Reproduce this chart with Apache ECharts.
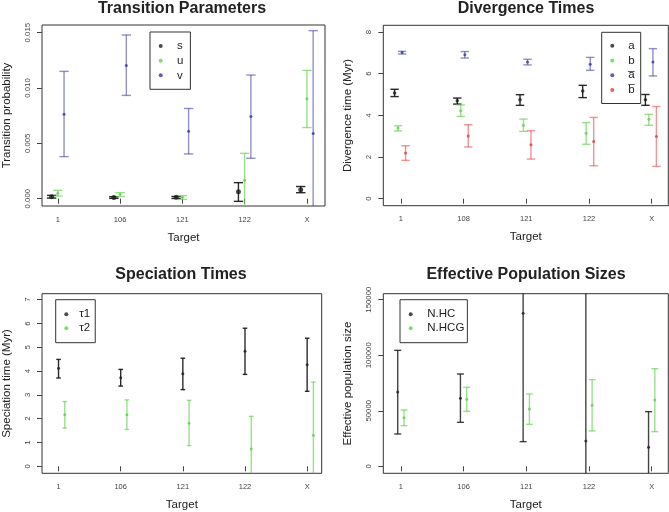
<!DOCTYPE html>
<html><head><meta charset="utf-8">
<script src="https://cdn.jsdelivr.net/npm/echarts@6/dist/echarts.min.js"></script>
<style>html,body{margin:0;padding:0;background:#fff}#c{width:669px;height:512px}</style>
</head><body><div id="c"></div><script>
// ---------- data ----------
const targetsA = ['1', '106', '121', '122', 'X'];
const targetsB = ['1', '108', '121', '122', 'X'];

// Transition Parameters
const sMean = [0.00018, 0.0001, 0.00012, 0.00063, 0.0008];
const sLow  = [0.00006, 0.00003, 0.00002, -0.00024, 0.00054];
const sHigh = [0.0003, 0.00018, 0.0002, 0.00145, 0.0011];
const uMean = [0.0005, 0.0004, 0.00012, 0.00166, 0.00902];
const uLow  = [0.00024, 0.0002, -0.00006, -0.003, 0.00643];
const uHigh = [0.00075, 0.00054, 0.00027, 0.0041, 0.01159];
const vMean = [0.00763, 0.01204, 0.0061, 0.00742, 0.00588];
const vLow  = [0.0038, 0.00933, 0.00404, 0.00365, -0.004];
const vHigh = [0.0115, 0.01479, 0.00815, 0.01117, 0.01518];

// Divergence Times
const aMean = [5.07, 4.70, 4.75, 5.17, 4.75];
const aLow  = [4.90, 4.54, 4.48, 4.85, 4.48];
const aHigh = [5.25, 4.83, 4.99, 5.44, 5.00];
const bMean = [3.39, 4.22, 3.52, 3.14, 3.81];
const bLow  = [3.25, 3.95, 3.23, 2.61, 3.52];
const bHigh = [3.50, 4.50, 3.82, 3.65, 4.05];
const abMean = [7.01, 6.91, 6.56, 6.45, 6.56];
const abLow  = [6.94, 6.75, 6.42, 6.16, 5.89];
const abHigh = [7.07, 7.06, 6.69, 6.78, 7.20];
const bbMean = [2.19, 3.01, 2.59, 2.74, 2.98];
const bbLow  = [1.84, 2.48, 1.90, 1.58, 1.55];
const bbHigh = [2.54, 3.55, 3.26, 3.90, 4.42];

// Speciation Times
const t1Mean = [4.12, 3.72, 3.89, 4.83, 4.27];
const t1Low  = [3.71, 3.37, 3.22, 3.86, 3.15];
const t1High = [4.49, 4.07, 4.54, 5.80, 5.38];
const t2Mean = [2.17, 2.17, 1.81, 0.73, 1.30];
const t2Low  = [1.61, 1.55, 0.87, -0.70, -1.00];
const t2High = [2.72, 2.79, 2.77, 2.10, 3.54];

// Effective Population Sizes
const hcMean = [66900, 61200, 137700, 22800, 17100];
const hcLow  = [29100, 39600, 22200, -100000, -20000];
const hcHigh = [104400, 83100, 200000, 250000, 49200];
const hcgMean = [43800, 60300, 51600, 54900, 59700];
const hcgLow  = [36600, 49500, 37800, 31800, 31200];
const hcgHigh = [50700, 71100, 65100, 78000, 87900];

// tick labels
const ticksP1 = [0, 0.005, 0.010, 0.015];
const ticksP2 = [0, 2, 4, 6, 8];
const ticksP3 = [0, 1, 2, 3, 4, 5, 6, 7];
const ticksP4 = [0, 50000, 100000, 150000];

// ---------- chart ----------
const FONT = 'Liberation Sans, Arial, Helvetica, sans-serif';
const BLACK = '#1e1e1e', GREEN = '#61D04F', BLUE = '#3434A2', RED = '#E03C3C';

function errSeries(name, g, off, lo, hi, color, cap, lw) {
  return {
    type: 'custom', name: name + ' err', xAxisIndex: g, yAxisIndex: g, silent: true, z: 2,
    data: lo.map((l, i) => [i + 1 + off, l, hi[i]]),
    encode: { x: 0, y: [1, 2] },
    renderItem: function (params, api) {
      const x = api.value(0), l = api.value(1), h = api.value(2);
      const pl = api.coord([x, l]), ph = api.coord([x, h]);
      const cs = params.coordSys;
      const top = cs.y, bot = cs.y + cs.height;
      const st = { stroke: color, lineWidth: lw };
      const ch = [];
      ch.push({ type: 'line', shape: { x1: pl[0], y1: Math.min(pl[1], bot), x2: pl[0], y2: Math.max(ph[1], top) }, style: st });
      if (pl[1] <= bot + 0.5) ch.push({ type: 'line', shape: { x1: pl[0] - cap, y1: pl[1], x2: pl[0] + cap, y2: pl[1] }, style: st });
      if (ph[1] >= top - 0.5) ch.push({ type: 'line', shape: { x1: ph[0] - cap, y1: ph[1], x2: ph[0] + cap, y2: ph[1] }, style: st });
      return { type: 'group', children: ch };
    }
  };
}
function ptSeries(name, g, off, mean, color, size) {
  return {
    type: 'scatter', name: name, xAxisIndex: g, yAxisIndex: g, z: 3, silent: true,
    symbol: 'circle', symbolSize: size, itemStyle: { color: color },
    data: mean.map((m, i) => [i + 1 + off, m])
  };
}
function xAx(g, min, max, labels) {
  return {
    type: 'value', gridIndex: g, min: min, max: max,
    name: 'Target', nameLocation: 'middle', nameGap: 25.5,
    nameTextStyle: { fontSize: 11.5, color: '#222', fontFamily: FONT },
    splitLine: { show: false }, axisLine: { show: false },
    axisTick: { show: true, length: 5, lineStyle: { color: '#444' }, customValues: [1, 2, 3, 4, 5] },
    axisLabel: { customValues: [1, 2, 3, 4, 5], formatter: v => labels[Math.round(v) - 1],
      fontSize: 7.5, color: '#444', margin: 9.5, fontFamily: FONT }
  };
}
function yAx(g, min, max, ticks, fmt, name) {
  return {
    type: 'value', gridIndex: g, min: min, max: max,
    name: name, nameLocation: 'middle', nameRotate: 90, nameGap: 29,
    nameTextStyle: { fontSize: 11.5, color: '#222', fontFamily: FONT },
    splitLine: { show: false }, axisLine: { show: false },
    axisTick: { show: true, length: 5, lineStyle: { color: '#444' }, customValues: ticks },
    axisLabel: { customValues: ticks, formatter: fmt, rotate: 90,
      fontSize: 7.8, color: '#444', margin: 10, fontFamily: FONT }
  };
}
// legend: dot 4px, text pushed right with text padding
function legend(names, left, top, pad, textPad, lh) {
  return {
    data: names, left: left, top: top, orient: 'vertical', icon: 'circle',
    itemWidth: 4, itemHeight: 4, itemGap: 0, padding: pad,
    borderColor: '#333', borderWidth: 1, borderRadius: 0, selectedMode: false,
    textStyle: { fontSize: 11.5, lineHeight: lh, color: '#222', fontFamily: FONT, padding: [0, 0, 0, textPad] }
  };
}
function title(text, x, y) {
  return { text: text, left: x, top: y, textAlign: 'center', padding: 0,
    textStyle: { fontSize: 16, fontWeight: 'bold', color: '#222', fontFamily: FONT } };
}
const gridStyle = { show: true, borderColor: '#333', borderWidth: 1, backgroundColor: 'transparent' };

const option = {
  animation: false,
  backgroundColor: '#fff',
  title: [
    title('Transition Parameters', 182, 1),
    title('Divergence Times', 526, 1),
    title('Speciation Times', 181, 267),
    title('Effective Population Sizes', 526, 267)
  ],
  grid: [
    Object.assign({ left: 39, top: 25, width: 286, height: 181 }, gridStyle),
    Object.assign({ left: 383.3, top: 25.3, width: 285, height: 180.4 }, gridStyle),
    Object.assign({ left: 39, top: 293.7, width: 282.7, height: 179.6 }, gridStyle),
    Object.assign({ left: 383.3, top: 293.7, width: 285, height: 179.6 }, gridStyle)
  ],
  xAxis: [
    xAx(0, 0.746, 5.29, targetsA),
    xAx(1, 0.72, 5.265, targetsB),
    xAx(2, 0.734, 5.234, targetsA),
    xAx(3, 0.72, 5.265, targetsA)
  ],
  yAxis: [
    yAx(0, -0.00066, 0.01569, ticksP1, v => v.toFixed(3), 'Transition probability'),
    yAx(1, -0.336, 8.32, ticksP2, v => String(v), 'Divergence time (Myr)'),
    yAx(2, -0.294, 7.25, ticksP3, v => String(v), 'Speciation time (Myr)'),
    yAx(3, -6300, 155400, ticksP4, v => String(v), 'Effective population size')
  ],
  legend: [
    legend(['s', 'u', 'v'], 150, 32, [6.6, 7, 6.6, 8.7], 9.3, 14.7),
    legend(['a', 'b', 'a\u0305', 'b\u0305'], 601.7, 32.3, [6, 6, 6, 8.6], 9, 14.8),
    legend(['\u03c41', '\u03c42'], 55.7, 299.7, [7.5, 5, 7.5, 8.6], 6, 14),
    legend(['N.HC', 'N.HCG'], 400, 299.7, [7.5, 3, 7.5, 8.7], 9.6, 14)
  ],
  series: [
    errSeries('s', 0, -0.1, sLow, sHigh, 'rgba(20,20,20,0.9)', 4.7, 1.4),
    errSeries('u', 0, 0, uLow, uHigh, 'rgba(97,208,79,0.65)', 4.7, 1.4),
    errSeries('v', 0, 0.1, vLow, vHigh, 'rgba(52,52,162,0.55)', 4.7, 1.4),
    ptSeries('s', 0, -0.1, sMean, BLACK, 5),
    ptSeries('u', 0, 0, uMean, GREEN, 3),
    ptSeries('v', 0, 0.1, vMean, BLUE, 3),

    errSeries('a', 1, -0.1, aLow, aHigh, 'rgba(20,20,20,0.9)', 4.2, 1.4),
    errSeries('b', 1, -0.045, bLow, bHigh, 'rgba(97,208,79,0.65)', 4.2, 1.4),
    errSeries('ab', 1, 0.02, abLow, abHigh, 'rgba(52,52,162,0.55)', 4.2, 1.4),
    errSeries('bb', 1, 0.075, bbLow, bbHigh, 'rgba(224,60,60,0.55)', 4.2, 1.4),
    ptSeries('a', 1, -0.1, aMean, BLACK, 3.5),
    ptSeries('b', 1, -0.045, bMean, GREEN, 3),
    ptSeries('a\u0305', 1, 0.02, abMean, BLUE, 3),
    ptSeries('b\u0305', 1, 0.075, bbMean, RED, 3),

    errSeries('t1', 2, 0, t1Low, t1High, 'rgba(20,20,20,0.9)', 2.3, 1.4),
    errSeries('t2', 2, 0.1, t2Low, t2High, 'rgba(97,208,79,0.65)', 2.3, 1.4),
    ptSeries('\u03c41', 2, 0, t1Mean, BLACK, 3),
    ptSeries('\u03c42', 2, 0.1, t2Mean, GREEN, 3),

    errSeries('hc', 3, -0.05, hcLow, hcHigh, 'rgba(20,20,20,0.8)', 3.5, 1.4),
    errSeries('hcg', 3, 0.05, hcgLow, hcgHigh, 'rgba(97,208,79,0.65)', 3.5, 1.4),
    ptSeries('N.HC', 3, -0.05, hcMean, BLACK, 3),
    ptSeries('N.HCG', 3, 0.05, hcgMean, GREEN, 3)
  ]
};
const chart = echarts.init(document.getElementById('c'));
chart.setOption(option);
</script></body></html>
